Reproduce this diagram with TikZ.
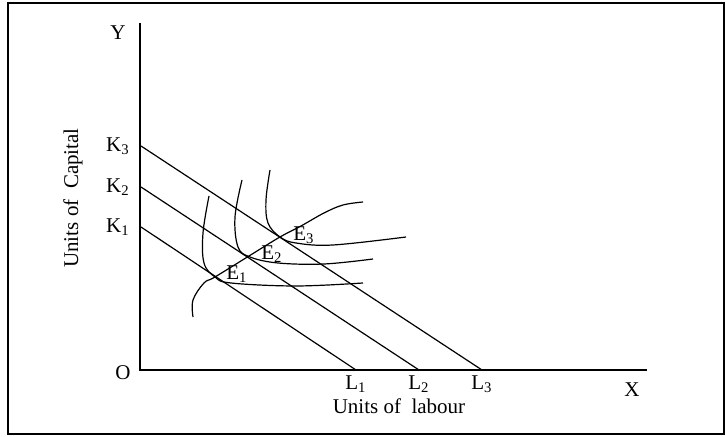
\documentclass[tikz,border=0pt]{standalone}
\usepackage{fontspec}
\setmainfont{Liberation Serif}
\usetikzlibrary{positioning}

\begin{document}
\begin{tikzpicture}[
  x=0.5pt,y=-0.5pt,
  every node/.style={font=\fontsize{10.5}{12}\selectfont,inner sep=1pt},
  axis/.style={line width=1pt},
  budget/.style={line width=0.6pt},
  isoq/.style={line width=0.6pt},
  lbl/.style={inner sep=0.5pt}
]
\useasboundingbox (0,0) rectangle (725,437);
% frame
\draw[line width=1.4pt] (8,3) rectangle (724,434);

% axes
\coordinate (orig) at (140,370);
\coordinate (ytop) at (140,23);
\coordinate (xend) at (647,370);
\draw[axis] (ytop) -- (orig) -- (xend);
\node[lbl] (o) at (123,373) {O};
\node[lbl] (y) at (118,33) {Y};
\node[lbl] (x) at (632,390) {X};
\node[rotate=90] (cap) at (73,198) {Units of\ \ Capital};
\node (lab) at (399,406) {Units of\ \ labour};

% isocost lines
\coordinate (k1) at (141,227);
\coordinate (k2) at (141,187);
\coordinate (k3) at (141,146);
\coordinate (l1) at (356,370);
\coordinate (l2) at (419,370);
\coordinate (l3) at (482,370);
\foreach \i in {1,2,3}{
  \draw[budget] (k\i) -- (l\i);
  \node[lbl] (kl\i) at (118,0 |- k\i) {K\textsubscript{\i}};
  \node[lbl,below=2pt of l\i] (ll\i) {L\textsubscript{\i}};
}

% isoquants
\draw[isoq] plot[smooth,tension=0.6] coordinates
  {(209,196) (203,233) (204,263) (215,277) (231,283) (296,286) (363,283)};
\draw[isoq] plot[smooth,tension=0.6] coordinates
  {(242,180) (235,217) (238,247) (250,257) (278,263) (324,264) (373,259)};
\draw[isoq] plot[smooth,tension=0.6] coordinates
  {(270,170) (266,200) (268,223) (280,237) (296,243) (333,245) (406,237)};

% expansion path
\draw[isoq] plot[smooth,tension=0.6] coordinates
  {(193,317) (193,300) (204,283) (215,277) (249,256) (280,237) (301,226) (324,213) (343,205) (363,202)};
\node[lbl] (e1) at (237,274) {E\textsubscript{1}};
\node[lbl] (e2) at (272,254) {E\textsubscript{2}};
\node[lbl] (e3) at (304,235) {E\textsubscript{3}};
\end{tikzpicture}
\end{document}
